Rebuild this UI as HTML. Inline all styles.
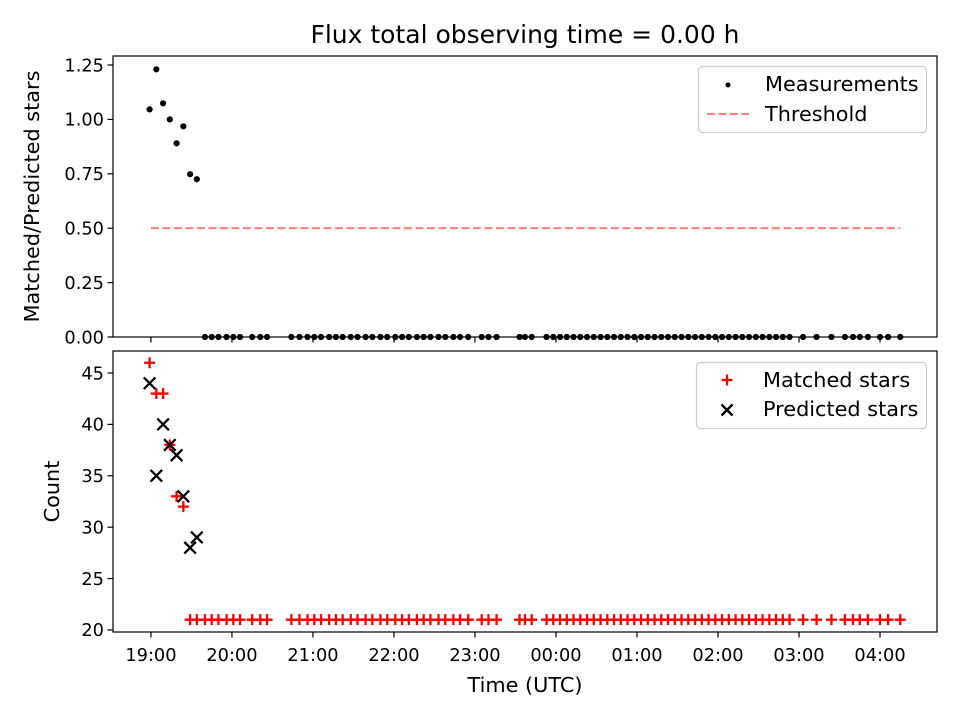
<!DOCTYPE html>
<html><head><meta charset="utf-8">
<style>
body{margin:0;background:#fff;}
svg{display:block;font-family:"DejaVu Sans","Liberation Sans",sans-serif;}
</style></head>
<body>
<svg id="chart" width="960" height="720" viewBox="0 0 960 720">
<rect width="960" height="720" fill="#fff"/>
<text x="525" y="43" font-size="25" text-anchor="middle">Flux total observing time = 0.00 h</text>
<g id="topPanel"></g>
<g id="botPanel"></g>
</svg>
<script>
// minutes after 19:00 UTC
const measTimes = [-1,4,9,14,19,24,29,34];
const measRatio = [1.046,1.23,1.074,1.0,0.89,0.968,0.748,0.725];
const measPred = [44,35,40,38,37,33,28,29];
const measMatched = [46,43,43,38,33,32,21,21];
const zeroTimes = [40,45,50,56,61,66,75,81,86,
104,110,116,121,126,132,137,142,148,153,159,164,170,175,181,186,191,197,202,207,213,218,224,229,235,
245,250,256,273,277,282,
293,298,303,308,313,318,323,328,333,338,343,348,353,358,363,368,373,378,383,388,393,398,403,408,413,418,423,428,433,438,443,448,453,458,463,468,473,
483,493,504,514,520,525,531,540,546,555];
const zeroMatched = zeroTimes.map(()=>21);
const thresholdValue = 0.5;
const thresholdRange = [0,555];
const xTickLabels = ["19:00","20:00","21:00","22:00","23:00","00:00","01:00","02:00","03:00","04:00"];
const xTickMinutes = [0,60,120,180,240,300,360,420,480,540];
const topTicks = [0,0.25,0.5,0.75,1.0,1.25];
const topTickLabels = ["0.00","0.25","0.50","0.75","1.00","1.25"];
const botTicks = [20,25,30,35,40,45];

const NS="http://www.w3.org/2000/svg";
const L=113,R=937;
const xMin=-28.1,xMax=582.2;
const TF=17.8, LF=20.8;
const X=m=>L+(m-xMin)/(xMax-xMin)*(R-L);
const T={top:56,bot:337,min:0,max:1.2914};
const B={top:351,bot:632,min:19.8,max:47.14};
const Yt=v=>T.bot-(v-T.min)/(T.max-T.min)*(T.bot-T.top);
const Yb=v=>B.bot-(v-B.min)/(B.max-B.min)*(B.bot-B.top);
function el(p,tag,a){const e=document.createElementNS(NS,tag);for(const k in a)e.setAttribute(k,a[k]);p.appendChild(e);return e;}
const gTop=document.getElementById('topPanel'), gBot=document.getElementById('botPanel');

function frame(g,P,name){
  const r=el(g,'rect',{x:L,y:P.top,width:R-L,height:P.bot-P.top,fill:'none',stroke:'#000','stroke-width':1.2});
  
  
  xTickMinutes.forEach((m,i)=>{
    const t=el(g,'line',{x1:X(m),x2:X(m),y1:P.bot,y2:P.bot+5.5,stroke:'#000','stroke-width':1.2});
    
    
  });
}
frame(gTop,T,'ratio');frame(gBot,B,'count');
xTickMinutes.forEach((m,i)=>{
  const t=el(gBot,'text',{x:X(m),y:B.bot+29,'font-size':TF,'text-anchor':'middle'});
  t.textContent=xTickLabels[i];
  
  
});
const xl=el(gBot,'text',{x:525,y:692,'font-size':LF,'text-anchor':'middle'});xl.textContent='Time (UTC)';


topTicks.forEach((v,i)=>{
  const l=el(gTop,'line',{x1:L-5.5,x2:L,y1:Yt(v),y2:Yt(v),stroke:'#000','stroke-width':1.2});
  
  
  const t=el(gTop,'text',{x:L-9,y:Yt(v)+6.3,'font-size':TF,'text-anchor':'end'});t.textContent=topTickLabels[i];
  
  
});
botTicks.forEach(v=>{
  const l=el(gBot,'line',{x1:L-5.5,x2:L,y1:Yb(v),y2:Yb(v),stroke:'#000','stroke-width':1.2});
  
  
  const t=el(gBot,'text',{x:L-9,y:Yb(v)+6.3,'font-size':TF,'text-anchor':'end'});t.textContent=String(v);
  
  
});
const yt=el(gTop,'text',{x:0,y:0,'font-size':LF,'text-anchor':'middle',transform:`translate(39,${(T.top+T.bot)/2}) rotate(-90)`});yt.textContent='Matched/Predicted stars';


const yb=el(gBot,'text',{x:0,y:0,'font-size':LF,'text-anchor':'middle',transform:`translate(59,${(B.top+B.bot)/2}) rotate(-90)`});yb.textContent='Count';



const th=el(gTop,'line',{x1:X(thresholdRange[0]),x2:X(thresholdRange[1]),y1:Yt(thresholdValue),y2:Yt(thresholdValue),stroke:'#ff7f7f','stroke-width':2.2,'stroke-dasharray':'8,3.5'});


function dot(t,v){
  const c=el(gTop,'circle',{cx:X(t),cy:Yt(v),r:3.1,fill:'#000'});
  
  
}
measTimes.forEach((t,i)=>dot(t,measRatio[i]));
zeroTimes.forEach(t=>dot(t,0));

function plus(g,x,y,s){
  return el(g,'path',{d:`M${x-s},${y}H${x+s}M${x},${y-s}V${y+s}`,stroke:'#f00','stroke-width':2.3,fill:'none'});
}
function cross(g,x,y,s){
  return el(g,'path',{d:`M${x-s},${y-s}L${x+s},${y+s}M${x-s},${y+s}L${x+s},${y-s}`,stroke:'#000','stroke-width':2.3,fill:'none'});
}
measTimes.forEach((t,i)=>{
  const p=plus(gBot,X(t),Yb(measMatched[i]),5.5);
  
  
});
zeroTimes.forEach((t,i)=>{
  const p=plus(gBot,X(t),Yb(zeroMatched[i]),5.5);
  
  
});
measTimes.forEach((t,i)=>{
  const c=cross(gBot,X(t),Yb(measPred[i]),5.8);
  
  
});

function legend(g,x,y,w,h,name){
  const r=el(g,'rect',{x:x,y:y,width:w,height:h,rx:4,fill:'#fff','fill-opacity':0.8,stroke:'#ccc','stroke-width':1.2});
  
  
}
legend(gTop,698.5,66.5,228,66,'legend-ratio');
const ld=el(gTop,'circle',{cx:728,cy:85,r:2.5,fill:'#000'});


const lt1=el(gTop,'text',{x:765,y:91,'font-size':LF});lt1.textContent='Measurements';


const ll=el(gTop,'line',{x1:707,x2:749,y1:114,y2:114,stroke:'#ff7f7f','stroke-width':2.2,'stroke-dasharray':'8,3.5'});


const lt2=el(gTop,'text',{x:765,y:121,'font-size':LF});lt2.textContent='Threshold';



legend(gBot,696.5,362.5,230,66,'legend-count');
const lp=plus(gBot,727,380,5.5);


const lt3=el(gBot,'text',{x:763,y:387,'font-size':LF});lt3.textContent='Matched stars';


const lx=cross(gBot,727,410,5.5);


const lt4=el(gBot,'text',{x:763,y:416,'font-size':LF});lt4.textContent='Predicted stars';


</script>
</body></html>
